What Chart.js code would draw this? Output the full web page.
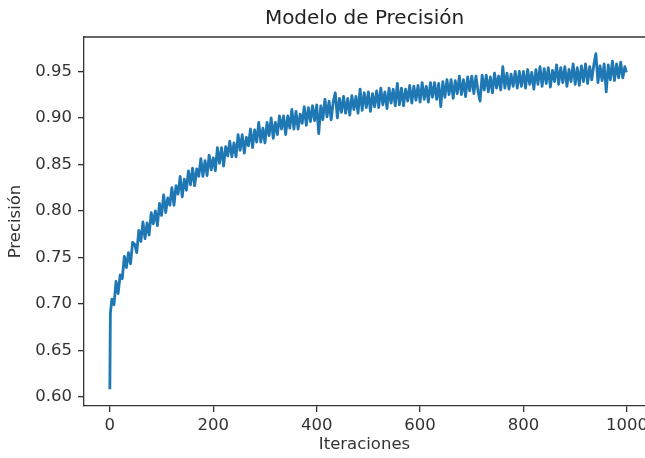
<!DOCTYPE html>
<html>
<head>
<meta charset="utf-8">
<script src="https://cdn.jsdelivr.net/npm/chart.js@4"></script>
<style>
  html, body { margin: 0; padding: 0; background: #fff; }
  #wrap { width: 645px; height: 458px; }
</style>
</head>
<body>
<div id="wrap"><canvas id="precChart"></canvas></div>
<script>
// iteration numbers (one sample every ~4 iterations)
const iteraciones = [
  0, 1, 4, 8, 12, 16, 20, 24, 28, 32,
  36, 40, 44, 48, 52, 56, 60, 64, 68, 72,
  76, 80, 84, 88, 92, 96, 100, 104, 108, 112,
  116, 120, 124, 128, 132, 136, 140, 144, 148, 152,
  156, 160, 164, 168, 172, 176, 180, 184, 188, 192,
  196, 200, 204, 208, 212, 216, 220, 224, 228, 232,
  236, 240, 244, 248, 252, 256, 260, 264, 268, 272,
  276, 280, 284, 288, 292, 296, 300, 304, 308, 312,
  316, 320, 324, 328, 332, 336, 340, 344, 348, 352,
  356, 360, 364, 368, 372, 376, 380, 384, 388, 392,
  396, 400, 404, 408, 412, 416, 420, 424, 428, 432,
  436, 440, 444, 448, 452, 456, 460, 464, 468, 472,
  476, 480, 484, 488, 492, 496, 500, 504, 508, 512,
  516, 520, 524, 528, 532, 536, 540, 544, 548, 552,
  556, 560, 564, 568, 572, 576, 580, 584, 588, 592,
  596, 600, 604, 608, 612, 616, 620, 624, 628, 632,
  636, 640, 644, 648, 652, 656, 660, 664, 668, 672,
  676, 680, 684, 688, 692, 696, 700, 704, 708, 712,
  716, 720, 724, 728, 732, 736, 740, 744, 748, 752,
  756, 760, 764, 768, 772, 776, 780, 784, 788, 792,
  796, 800, 804, 808, 812, 816, 820, 824, 828, 832,
  836, 840, 844, 848, 852, 856, 860, 864, 868, 872,
  876, 880, 884, 888, 892, 896, 900, 904, 908, 912,
  916, 920, 924, 928, 932, 936, 940, 944, 948, 952,
  956, 960, 964, 968, 972, 976, 980, 984, 988, 992,
  996, 999
];

// accuracy at each of those iterations (upper / lower edge of the noisy band)
const precision = [
  0.608, 0.690, 0.705, 0.699, 0.724, 0.711, 0.731, 0.727, 0.751, 0.739,
  0.755, 0.743, 0.766, 0.764, 0.755, 0.779, 0.767, 0.788, 0.770, 0.787,
  0.774, 0.798, 0.786, 0.800, 0.784, 0.808, 0.795, 0.817, 0.798, 0.814,
  0.806, 0.825, 0.806, 0.827, 0.818, 0.837, 0.815, 0.834, 0.822, 0.843,
  0.828, 0.846, 0.827, 0.845, 0.837, 0.856, 0.837, 0.854, 0.838, 0.860,
  0.844, 0.857, 0.843, 0.868, 0.851, 0.868, 0.848, 0.869, 0.859, 0.875,
  0.858, 0.873, 0.858, 0.882, 0.865, 0.882, 0.862, 0.879, 0.870, 0.888,
  0.868, 0.887, 0.874, 0.895, 0.874, 0.889, 0.873, 0.895, 0.881, 0.900,
  0.878, 0.895, 0.882, 0.902, 0.888, 0.902, 0.882, 0.902, 0.889, 0.909,
  0.888, 0.907, 0.888, 0.904, 0.894, 0.912, 0.892, 0.911, 0.896, 0.913,
  0.897, 0.914, 0.883, 0.913, 0.898, 0.920, 0.901, 0.918, 0.898, 0.917,
  0.927, 0.900, 0.921, 0.906, 0.923, 0.905, 0.921, 0.903, 0.924, 0.909,
  0.923, 0.905, 0.931, 0.908, 0.927, 0.911, 0.928, 0.907, 0.926, 0.912,
  0.929, 0.911, 0.932, 0.914, 0.928, 0.910, 0.932, 0.916, 0.931, 0.913,
  0.937, 0.914, 0.932, 0.913, 0.931, 0.918, 0.935, 0.916, 0.934, 0.919,
  0.935, 0.917, 0.938, 0.920, 0.934, 0.917, 0.938, 0.922, 0.938, 0.920,
  0.937, 0.912, 0.939, 0.922, 0.941, 0.925, 0.941, 0.921, 0.940, 0.926,
  0.945, 0.925, 0.941, 0.923, 0.944, 0.929, 0.945, 0.926, 0.945, 0.929,
  0.918, 0.946, 0.930, 0.946, 0.928, 0.944, 0.927, 0.948, 0.932, 0.945,
  0.930, 0.955, 0.932, 0.948, 0.931, 0.947, 0.934, 0.950, 0.932, 0.950,
  0.934, 0.950, 0.932, 0.952, 0.936, 0.949, 0.931, 0.952, 0.936, 0.955,
  0.934, 0.953, 0.937, 0.954, 0.933, 0.951, 0.939, 0.957, 0.936, 0.954,
  0.938, 0.955, 0.934, 0.952, 0.939, 0.958, 0.936, 0.954, 0.935, 0.956,
  0.939, 0.958, 0.937, 0.955, 0.941, 0.957, 0.969, 0.938, 0.956, 0.940,
  0.958, 0.928, 0.957, 0.941, 0.961, 0.940, 0.958, 0.943, 0.960, 0.943,
  0.955, 0.949
];

const xTicks = [0, 200, 400, 600, 800, 1000];
const yTicks = [0.60, 0.65, 0.70, 0.75, 0.80, 0.85, 0.90, 0.95];

const points = iteraciones.map((it, i) => ({ x: it, y: precision[i] }));

const font = { family: "'DejaVu Sans', sans-serif", size: 16.5 };
const inkColor = "#333";

// matplotlib-style top spine
const topSpine = {
  id: "topSpine",
  afterDraw(chart) {
    const { ctx, chartArea } = chart;
    ctx.save();
    ctx.strokeStyle = inkColor;
    ctx.lineWidth = 1.3;
    ctx.beginPath();
    ctx.moveTo(chartArea.left, chartArea.top);
    ctx.lineTo(chartArea.right, chartArea.top);
    ctx.stroke();
    ctx.restore();
  }
};

new Chart(document.getElementById("precChart"), {
  type: "line",
  data: {
    datasets: [{
      data: points,
      borderColor: "#1f77b4",
      borderWidth: 2.8,
      borderJoinStyle: "round",
      pointRadius: 0,
      tension: 0,
      fill: false
    }]
  },
  options: {
    responsive: true,
    maintainAspectRatio: false,
    animation: false,
    layout: { padding: 0 },
    plugins: {
      legend: { display: false },
      tooltip: { enabled: false },
      title: {
        display: true,
        fullSize: false,
        text: "Modelo de Precisión",
        color: "#222",
        font: { family: font.family, size: 20, weight: "normal" },
        padding: { top: 7, bottom: 6 }
      }
    },
    scales: {
      x: {
        type: "linear",
        min: -50,
        max: 1035,
        afterBuildTicks: axis => { axis.ticks = xTicks.map(v => ({ value: v })); },
        afterFit: axis => { axis.height = 52; axis.paddingLeft = 0; axis.paddingRight = 0; },
        ticks: { color: inkColor, font: font, padding: 4, maxRotation: 0, autoSkip: false, callback: v => String(v) },
        grid: { display: true, drawOnChartArea: false, drawTicks: true, tickLength: 6, color: inkColor, lineWidth: 1.3 },
        border: { display: true, color: inkColor, width: 1.3 },
        title: { display: true, text: "Iteraciones", color: inkColor, font: font, padding: { top: 0, bottom: 3 } }
      },
      y: {
        type: "linear",
        min: 0.590,
        max: 0.987,
        afterBuildTicks: axis => { axis.ticks = yTicks.map(v => ({ value: v })); },
        afterFit: axis => { axis.width = 84; axis.paddingTop = 0; axis.paddingBottom = 0; },
        ticks: { color: inkColor, font: font, padding: 6, callback: v => v.toFixed(2) },
        grid: { display: true, drawOnChartArea: false, drawTicks: true, tickLength: 6, color: inkColor, lineWidth: 1.3 },
        border: { display: true, color: inkColor, width: 1.3 },
        title: { display: true, text: "Precisión", color: inkColor, font: font, padding: { top: 6, bottom: 0 } }
      }
    }
  },
  plugins: [topSpine]
});
</script>
</body>
</html>
